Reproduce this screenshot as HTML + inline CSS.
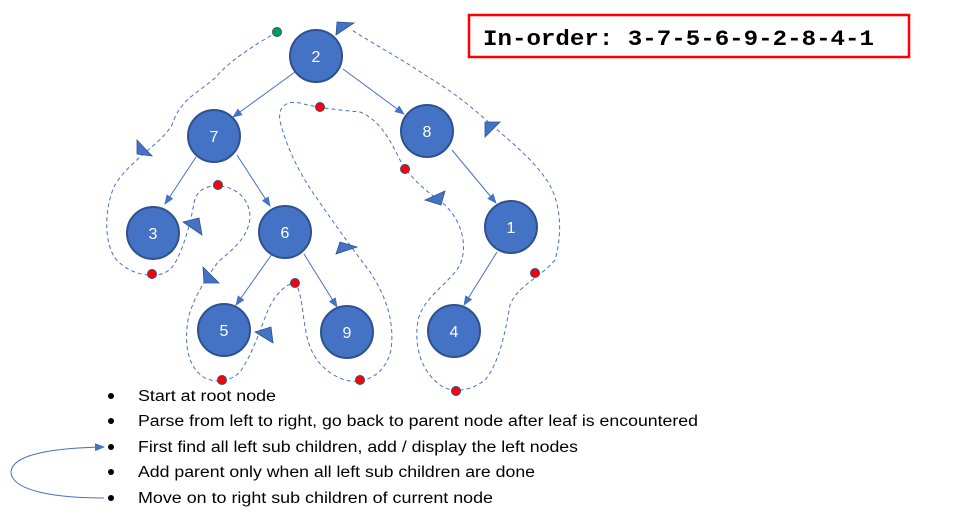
<!DOCTYPE html>
<html><head><meta charset="utf-8"><style>
html,body{margin:0;padding:0;background:#fff;width:970px;height:520px;overflow:hidden}
</style></head><body>
<svg width="970" height="520" viewBox="0 0 970 520" xmlns="http://www.w3.org/2000/svg">
<defs>
<marker id="ah" markerWidth="10" markerHeight="8" refX="9" refY="4" orient="auto" markerUnits="userSpaceOnUse">
<path d="M0,0 L10,4 L0,8 z" fill="#4472c4"/></marker>
</defs>
<!-- dashed traversal path -->
<path fill="none" stroke="#4472c4" stroke-width="1" stroke-dasharray="4,3"
d="M277,32 C255,45 230,60 215,78 C195,95 180,100 172,125 C160,145 130,160 115,185 C105,205 103,240 115,258 C125,270 140,276 155,275 C172,274 176,262 182,248 C188,232 192,215 195,198 C200,188 210,185 220,186 C238,188 250,200 250,218 C248,238 232,250 218,262 C205,280 192,300 188,320 C184,345 188,368 205,378 C215,383 230,382 240,372 C252,355 260,330 268,310 C275,295 285,284 295,283 C302,292 302,312 306,332 C310,355 322,372 345,380 C365,385 385,375 391,350 C395,320 385,295 370,272 C352,248 335,225 318,200 C300,175 288,150 281,125 C276,108 285,100 300,103 C318,108 340,110 360,112 C380,120 390,140 400,160 C412,180 425,190 445,205 C462,222 468,245 460,265 C448,285 425,295 418,320 C414,345 420,370 440,385 C450,393 470,392 485,380 C498,365 505,335 510,305 C518,285 540,278 555,260 C562,235 562,205 548,182 C535,162 515,145 495,128 C470,105 450,90 425,75 C400,58 375,45 352,30"/>
<!-- arrow triangles -->
<g fill="#4472c4" stroke="#2f528f" stroke-width="0.8">
<polygon points="337,22 354,23 336,35"/>
<polygon points="137,140 152,156 137,154"/>
<polygon points="183,222 199,218 202,235"/>
<polygon points="203,267 219,283 204,283"/>
<polygon points="255,332 271,327 273,343"/>
<polygon points="340,242 357,247 336,254"/>
<polygon points="445,191 441,205 425,200"/>
<polygon points="485,122 500,122 485,137"/>
</g>
<!-- edges -->
<g stroke="#4472c4" stroke-width="1" marker-end="url(#ah)">
<line x1="295" y1="72" x2="233" y2="117"/>
<line x1="343" y1="69" x2="404" y2="114"/>
<line x1="196" y1="157" x2="165" y2="204"/>
<line x1="237" y1="155" x2="270" y2="206"/>
<line x1="452" y1="150" x2="496" y2="203"/>
<line x1="272" y1="254" x2="236" y2="305"/>
<line x1="304" y1="254" x2="337" y2="307"/>
<line x1="497" y1="252" x2="464" y2="305"/>
</g>
<!-- nodes -->
<g fill="#4472c4" stroke="#2f528f" stroke-width="2">
<circle cx="316" cy="56" r="26"/>
<circle cx="214" cy="136" r="26"/>
<circle cx="427" cy="131" r="26"/>
<circle cx="153" cy="233" r="26"/>
<circle cx="285" cy="232" r="26"/>
<circle cx="511" cy="227" r="26"/>
<circle cx="224" cy="330" r="26"/>
<circle cx="347" cy="332" r="26"/>
<circle cx="454" cy="331" r="26"/>
</g>
<g fill="#fff" font-family="Liberation Sans, sans-serif" font-size="16" text-anchor="middle">
<text x="316" y="62">2</text>
<text x="214" y="142">7</text>
<text x="427" y="137">8</text>
<text x="153" y="239">3</text>
<text x="285" y="238">6</text>
<text x="511" y="233">1</text>
<text x="224" y="336">5</text>
<text x="347" y="338">9</text>
<text x="454" y="337">4</text>
</g>
<!-- dots -->
<circle cx="277" cy="32" r="4.5" fill="#00a050" stroke="#2f528f"/>
<g fill="#ff0000" stroke="#2f528f" stroke-width="1">
<circle cx="320" cy="107" r="4.5"/>
<circle cx="405" cy="169" r="4.5"/>
<circle cx="218" cy="185" r="4.5"/>
<circle cx="152" cy="274" r="4.5"/>
<circle cx="295" cy="283" r="4.5"/>
<circle cx="222" cy="380" r="4.5"/>
<circle cx="360" cy="380" r="4.5"/>
<circle cx="456" cy="391" r="4.5"/>
<circle cx="535" cy="273" r="4.5"/>
</g>
<!-- in-order box -->
<rect x="469" y="15" width="440" height="42" fill="#fff" stroke="#ff0000" stroke-width="2.5"/>
<text x="483" y="45" font-family="Liberation Mono, monospace" font-weight="bold" font-size="22" textLength="391" lengthAdjust="spacingAndGlyphs">In-order: 3-7-5-6-9-2-8-4-1</text>
<!-- bullets -->
<g fill="#000">
<circle cx="111" cy="396" r="3"/>
<circle cx="111" cy="421" r="3"/>
<circle cx="111" cy="447" r="3"/>
<circle cx="111" cy="472" r="3"/>
<circle cx="111" cy="498" r="3"/>
</g>
<g font-family="Liberation Sans, sans-serif" font-size="15.5" fill="#000">
<text x="138" y="401" textLength="138" lengthAdjust="spacingAndGlyphs">Start at root node</text>
<text x="138" y="426" textLength="560" lengthAdjust="spacingAndGlyphs">Parse from left to right, go back to parent node after leaf is encountered</text>
<text x="138" y="452" textLength="440" lengthAdjust="spacingAndGlyphs">First find all left sub children, add / display the left nodes</text>
<text x="138" y="477" textLength="397" lengthAdjust="spacingAndGlyphs">Add parent only when all left sub children are done</text>
<text x="138" y="503" textLength="355" lengthAdjust="spacingAndGlyphs">Move on to right sub children of current node</text>
</g>
<path d="M104,498 C60,498 12,492 11,472 C12,455 50,448 104,447" fill="none" stroke="#4472c4" stroke-width="1" marker-end="url(#ah)"/>
</svg>
</body></html>
